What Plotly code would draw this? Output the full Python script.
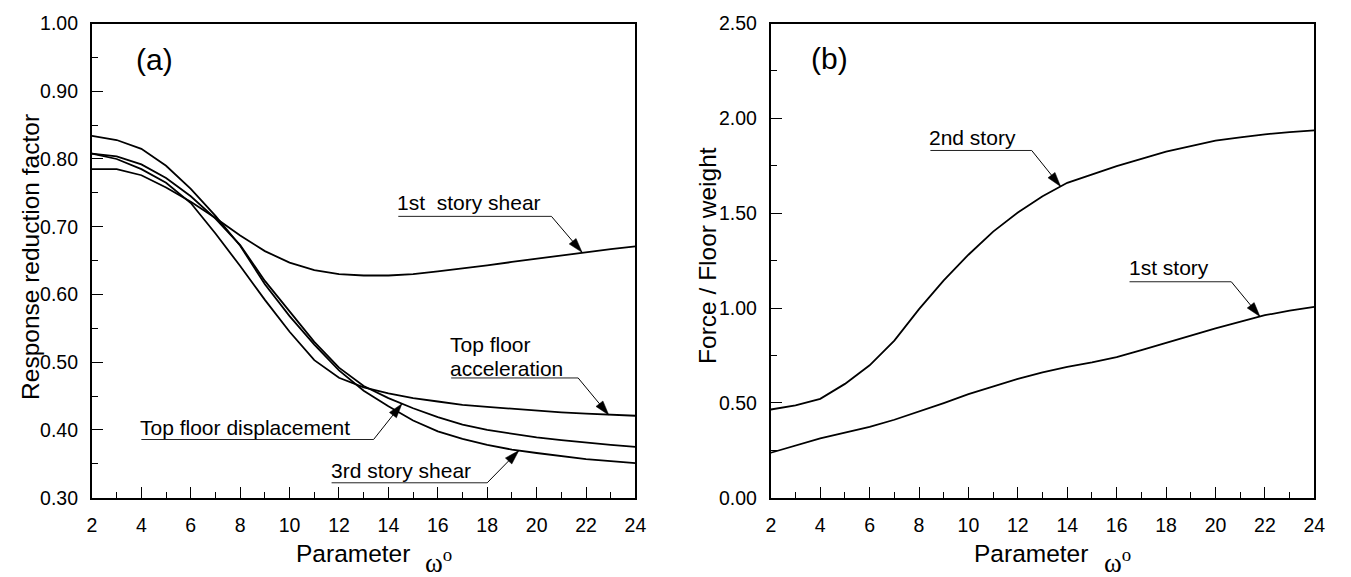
import numpy as np
import plotly.graph_objects as go

# ---------------- data ----------------
omega = list(range(2, 25))
story1_shear = [0.785, 0.785, 0.776, 0.758, 0.737, 0.713, 0.687, 0.664, 0.647, 0.636, 0.630, 0.628,
                0.628, 0.630, 0.634, 0.638, 0.643, 0.648, 0.653, 0.658, 0.663, 0.667, 0.671]
top_accel = [0.808, 0.800, 0.785, 0.765, 0.735, 0.690, 0.642, 0.592, 0.545, 0.503, 0.477, 0.463,
             0.454, 0.447, 0.442, 0.437, 0.434, 0.431, 0.428, 0.426, 0.424, 0.422, 0.421]
top_disp = [0.808, 0.804, 0.792, 0.772, 0.745, 0.712, 0.673, 0.620, 0.575, 0.530, 0.492, 0.465,
            0.447, 0.432, 0.419, 0.408, 0.400, 0.394, 0.389, 0.385, 0.381, 0.378, 0.375]
story3_shear = [0.834, 0.828, 0.815, 0.790, 0.756, 0.716, 0.672, 0.615, 0.568, 0.526, 0.488, 0.458,
                0.435, 0.414, 0.398, 0.387, 0.378, 0.371, 0.366, 0.361, 0.357, 0.354, 0.351]
force_2nd = [0.465, 0.487, 0.521, 0.600, 0.698, 0.828, 0.994, 1.146, 1.281, 1.403, 1.504, 1.589,
             1.660, 1.706, 1.748, 1.786, 1.824, 1.853, 1.883, 1.900, 1.916, 1.927, 1.937]
force_1st = [0.237, 0.277, 0.313, 0.343, 0.374, 0.411, 0.453, 0.499, 0.546, 0.588, 0.627, 0.661,
             0.690, 0.714, 0.741, 0.778, 0.818, 0.855, 0.893, 0.927, 0.962, 0.986, 1.006]

x_ticks = list(range(2, 25, 2))
x_ticktext = [str(v) for v in x_ticks]
ya_ticks = [0.30, 0.40, 0.50, 0.60, 0.70, 0.80, 0.90, 1.00]
yb_ticks = [0.00, 0.50, 1.00, 1.50, 2.00, 2.50]

# ---------------- layout geometry ----------------
W, H = 1351, 577
TOP, BOT = 13, 506
PANELS = {
    "a": dict(x0=88, x1=638, xr=(2, 24), yr=(0.30, 1.00), xref="x", yref="y"),
    "b": dict(x0=775, x1=1325, xr=(2, 24), yr=(0.00, 2.50), xref="x2", yref="y2"),
}
FONT = "Liberation Sans, Arial, sans-serif"


def to_px(p, x, y):
    P = PANELS[p]
    px = P["x0"] + (x - P["xr"][0]) / (P["xr"][1] - P["xr"][0]) * (P["x1"] - P["x0"])
    py = BOT - (y - P["yr"][0]) / (P["yr"][1] - P["yr"][0]) * (BOT - TOP)
    return px, py


def to_data(p, px, py):
    P = PANELS[p]
    x = P["xr"][0] + (px - P["x0"]) / (P["x1"] - P["x0"]) * (P["xr"][1] - P["xr"][0])
    y = P["yr"][0] + (BOT - py) / (BOT - TOP) * (P["yr"][1] - P["yr"][0])
    return x, y


fig = go.Figure()
line_style = dict(color="black", width=1.8)
for s in [story1_shear, top_accel, top_disp, story3_shear]:
    fig.add_trace(go.Scatter(x=omega, y=s, mode="lines", line=line_style, xaxis="x", yaxis="y",
                             showlegend=False, hoverinfo="skip"))
for s in [force_2nd, force_1st]:
    fig.add_trace(go.Scatter(x=omega, y=s, mode="lines", line=line_style, xaxis="x2", yaxis="y2",
                             showlegend=False, hoverinfo="skip"))

shapes = []
annotations = []

# labelled leaders: (panel, text lines [(text, center_py)], text_left_px, underline_py, underline_end_px, tip_x, series)
leaders = [
    ("a", [("1st\u00a0 story shear", 199)], 396, 213.5, 553, 21.84, story1_shear),
    ("a", [("Top floor", 346.5), ("acceleration", 371.5)], 449.5, 381.5, 580, 22.92, top_accel),
    ("a", [("Top floor displacement", 433)], 136, 445.5, 373, 14.55, top_disp),
    ("a", [("3rd story shear", 478)], 328.5, 490.5, 488, 19.28, story3_shear),
    ("b", [("2nd story", 131.5)], 934.5, 145, 1039, 13.73, force_2nd),
    ("b", [("1st story", 266.5)], 1136, 281.5, 1241, 21.80, force_1st),
]

for p, lines, tl, uy, ux, tipx, series in leaders:
    P = PANELS[p]
    for txt, cy in lines:
        dx, dy = to_data(p, tl, cy)
        annotations.append(dict(x=dx, y=dy, xref=P["xref"], yref=P["yref"], text=txt, showarrow=False,
                                xanchor="left", yanchor="middle", borderpad=0,
                                font=dict(family=FONT, size=21, color="black")))
    ax0, ay0 = to_data(p, tl + 2, uy)
    ax1, ay1 = to_data(p, ux, uy)
    shapes.append(dict(type="line", xref=P["xref"], yref=P["yref"], x0=ax0, y0=ay0, x1=ax1, y1=ay1,
                       line=dict(color="#222", width=1)))
    tipy = float(np.interp(tipx, omega, series))
    tpx, tpy = to_px(p, tipx, tipy)
    shapes.append(dict(type="line", xref=P["xref"], yref=P["yref"], x0=ax1, y0=ay1, x1=tipx, y1=tipy,
                       line=dict(color="black", width=1)))
    # arrowhead triangle in pixel space
    vx, vy = tpx - ux, tpy - uy
    n = (vx ** 2 + vy ** 2) ** 0.5
    vx, vy = vx / n, vy / n
    L, hw = 15, 4.5
    bx, by = tpx - vx * L, tpy - vy * L
    pts = [(tpx, tpy), (bx - vy * hw, by + vx * hw), (bx + vy * hw, by - vx * hw)]
    dpts = [to_data(p, a, b) for a, b in pts]
    path = "M {} {} L {} {} L {} {} Z".format(*[c for pt in dpts for c in pt])
    shapes.append(dict(type="path", xref=P["xref"], yref=P["yref"], path=path,
                       fillcolor="black", line=dict(color="black", width=0.5)))

# panel letters
for p, cx, cy, t in [("a", 151, 50, "(a)"), ("b", 834, 49, "(b)")]:
    dx, dy = to_data(p, cx, cy)
    P = PANELS[p]
    annotations.append(dict(x=dx, y=dy, xref=P["xref"], yref=P["yref"], text=t, showarrow=False,
                            xanchor="center", yanchor="middle", font=dict(family=FONT, size=30, color="black")))

# axis titles as paper annotations
annotations.append(dict(x=26 / W, y=1 - 256 / H, xref="paper", yref="paper", text="Response reduction factor",
                        textangle=-90, showarrow=False, xanchor="center", yanchor="middle",
                        font=dict(family=FONT, size=24.5, color="black")))
annotations.append(dict(x=711 / W, y=1 - 254 / H, xref="paper", yref="paper", text="Force / Floor weight",
                        textangle=-90, showarrow=False, xanchor="center", yanchor="middle",
                        font=dict(family=FONT, size=24.5, color="black")))
for off in [0, 687]:
    annotations.append(dict(x=(292 + off) / W, y=1 - 564 / H, xref="paper", yref="paper", text="Parameter",
                            showarrow=False, xanchor="left", yanchor="middle",
                            font=dict(family=FONT, size=24.5, color="black")))
    annotations.append(dict(x=(423 + off) / W, y=1 - 572 / H, xref="paper", yref="paper", text="ω<sup>o</sup>",
                            showarrow=False, xanchor="left", yanchor="middle",
                            font=dict(family="Liberation Serif, serif", size=27, color="black")))

xdom1 = [88 / W, 638 / W]
xdom2 = [775 / W, 1325 / W]
ydom = [1 - BOT / H, 1 - TOP / H]

common_x = dict(range=[2, 24], tickvals=x_ticks, ticktext=x_ticktext, ticks="inside", ticklen=11, tickwidth=1,
                tickcolor="black", showline=True, linewidth=2, linecolor="black", mirror=True, showgrid=False,
                zeroline=False, tickfont=dict(family=FONT, size=19.5, color="black"), ticklabelstandoff=9,
                minor=dict(ticks="inside", ticklen=6, tickwidth=1, tickcolor="black", dtick=1, tick0=2, showgrid=False))
common_y = dict(ticks="inside", ticklen=11, tickwidth=1, tickcolor="black", showline=True, linewidth=2,
                linecolor="black", mirror=True, showgrid=False, zeroline=False, ticklabelstandoff=8,
                tickfont=dict(family=FONT, size=19.5, color="black"), tickformat=".2f")

fig.update_layout(
    width=W, height=H, margin=dict(l=0, r=0, t=0, b=0),
    paper_bgcolor="white", plot_bgcolor="white", showlegend=False,
    xaxis=dict(domain=xdom1, anchor="y", **common_x),
    yaxis=dict(domain=ydom, anchor="x", range=[0.30, 1.00], tickvals=ya_ticks,
               minor=dict(ticks="inside", ticklen=6, tickwidth=1, tickcolor="black", dtick=0.05, tick0=0.3,
                          showgrid=False), **common_y),
    xaxis2=dict(domain=xdom2, anchor="y2", **common_x),
    yaxis2=dict(domain=ydom, anchor="x2", range=[0.0, 2.5], tickvals=yb_ticks,
                minor=dict(ticks="inside", ticklen=6, tickwidth=1, tickcolor="black", dtick=0.25, tick0=0,
                           showgrid=False), **common_y),
    shapes=shapes, annotations=annotations,
)

fig.write_html("out.html")
